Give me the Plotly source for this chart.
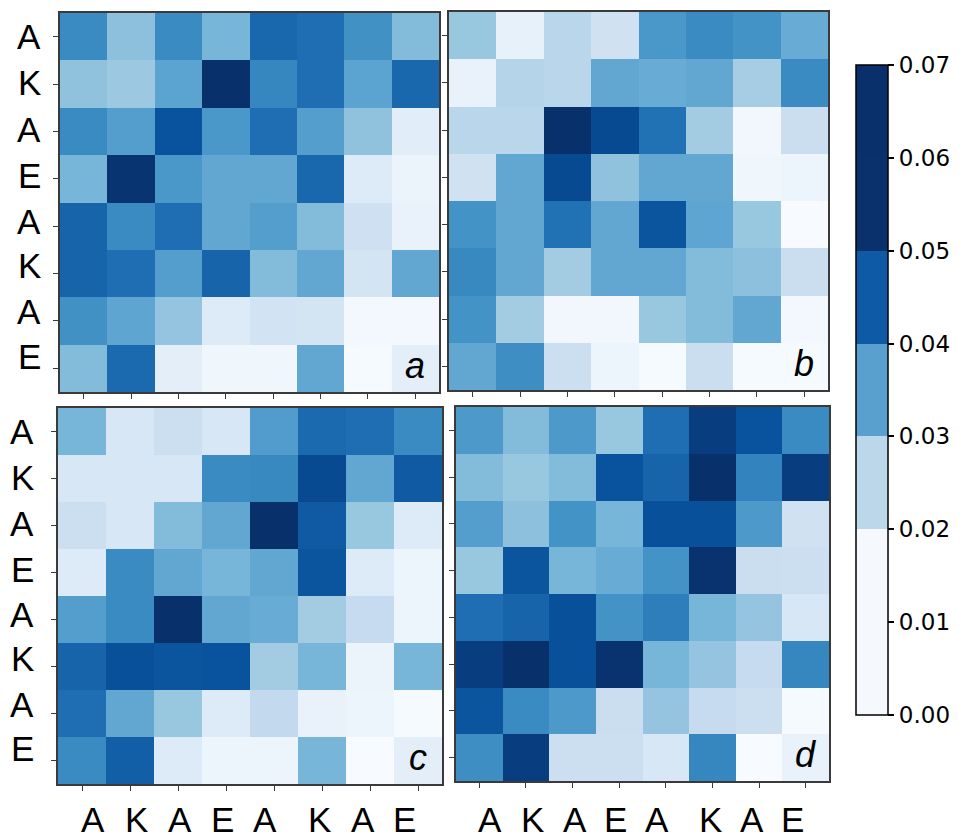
import plotly.graph_objects as go

# Residue sequence along both axes of each contact map
residues = ["A", "K", "A", "E", "A", "K", "A", "E"]

# 8x8 maps, rows top to bottom, columns left to right
panel_a = [
    [0.0455, 0.0294, 0.0455, 0.0329, 0.0553, 0.0532, 0.0441, 0.0308],
    [0.0287, 0.0266, 0.0385, 0.0700, 0.0469, 0.0532, 0.0385, 0.0553],
    [0.0455, 0.0399, 0.0609, 0.0420, 0.0532, 0.0399, 0.0287, 0.0077],
    [0.0329, 0.0690, 0.0420, 0.0371, 0.0371, 0.0553, 0.0091, 0.0042],
    [0.0560, 0.0455, 0.0532, 0.0371, 0.0399, 0.0308, 0.0147, 0.0049],
    [0.0560, 0.0532, 0.0399, 0.0560, 0.0308, 0.0371, 0.0126, 0.0371],
    [0.0441, 0.0378, 0.0280, 0.0091, 0.0133, 0.0126, 0.0014, 0.0014],
    [0.0308, 0.0546, 0.0070, 0.0028, 0.0028, 0.0371, 0.0007, 0.0070],
]
panel_b = [
    [0.0273, 0.0056, 0.0203, 0.0140, 0.0420, 0.0455, 0.0434, 0.0357],
    [0.0049, 0.0210, 0.0203, 0.0371, 0.0357, 0.0371, 0.0245, 0.0455],
    [0.0203, 0.0203, 0.0700, 0.0630, 0.0525, 0.0252, 0.0021, 0.0161],
    [0.0140, 0.0371, 0.0630, 0.0287, 0.0371, 0.0371, 0.0028, 0.0035],
    [0.0434, 0.0371, 0.0525, 0.0371, 0.0602, 0.0378, 0.0273, 0.0000],
    [0.0462, 0.0371, 0.0252, 0.0371, 0.0371, 0.0308, 0.0294, 0.0161],
    [0.0434, 0.0252, 0.0021, 0.0021, 0.0273, 0.0308, 0.0371, 0.0014],
    [0.0371, 0.0448, 0.0154, 0.0035, 0.0007, 0.0161, 0.0007, 0.0007],
]
panel_c = [
    [0.0329, 0.0112, 0.0154, 0.0112, 0.0406, 0.0546, 0.0532, 0.0455],
    [0.0112, 0.0112, 0.0112, 0.0455, 0.0462, 0.0630, 0.0371, 0.0588],
    [0.0154, 0.0112, 0.0308, 0.0371, 0.0700, 0.0588, 0.0273, 0.0091],
    [0.0091, 0.0455, 0.0371, 0.0329, 0.0371, 0.0602, 0.0091, 0.0035],
    [0.0399, 0.0455, 0.0700, 0.0371, 0.0357, 0.0252, 0.0175, 0.0035],
    [0.0560, 0.0616, 0.0602, 0.0609, 0.0252, 0.0329, 0.0042, 0.0329],
    [0.0532, 0.0371, 0.0273, 0.0091, 0.0182, 0.0049, 0.0035, 0.0007],
    [0.0455, 0.0574, 0.0091, 0.0035, 0.0035, 0.0329, 0.0000, 0.0070],
]
panel_d = [
    [0.0413, 0.0308, 0.0413, 0.0273, 0.0532, 0.0665, 0.0609, 0.0455],
    [0.0308, 0.0273, 0.0308, 0.0609, 0.0560, 0.0700, 0.0476, 0.0665],
    [0.0399, 0.0294, 0.0434, 0.0329, 0.0616, 0.0616, 0.0413, 0.0140],
    [0.0273, 0.0602, 0.0329, 0.0357, 0.0434, 0.0693, 0.0161, 0.0154],
    [0.0532, 0.0560, 0.0616, 0.0434, 0.0490, 0.0329, 0.0280, 0.0112],
    [0.0665, 0.0700, 0.0616, 0.0693, 0.0329, 0.0280, 0.0175, 0.0469],
    [0.0602, 0.0455, 0.0413, 0.0161, 0.0280, 0.0175, 0.0154, 0.0007],
    [0.0448, 0.0665, 0.0154, 0.0154, 0.0112, 0.0469, 0.0000, 0.0049],
]
panel_names = ["a", "b", "c", "d"]

# Banded colour key
band_edges = [0.00, 0.02, 0.03, 0.04, 0.05, 0.06, 0.07]
band_colors = ["#f5f9fe", "#bcd7ea", "#5aa0cf", "#0e5aa6", "#0a316c", "#09306a"]
cbar_ticks = [0.00, 0.01, 0.02, 0.03, 0.04, 0.05, 0.06, 0.07]

ZMIN, ZMAX = 0.0, 0.07
W, H = 964, 838

BLUES = [
    [0.000, "rgb(247,251,255)"],
    [0.125, "rgb(222,235,247)"],
    [0.250, "rgb(198,219,239)"],
    [0.375, "rgb(158,202,225)"],
    [0.500, "rgb(107,174,214)"],
    [0.625, "rgb(66,146,198)"],
    [0.750, "rgb(33,113,181)"],
    [0.875, "rgb(8,81,156)"],
    [1.000, "rgb(8,48,107)"],
]

stepped = []
for lo, hi, col in zip(band_edges[:-1], band_edges[1:], band_colors):
    stepped.append([(lo - ZMIN) / (ZMAX - ZMIN), col])
    stepped.append([(hi - ZMIN) / (ZMAX - ZMIN), col])

# Panel frames in pixels: (x0, x1), (y0 top, y1 bottom)
frames = [
    ((60, 439), (13, 392)),
    ((449, 828), (12, 390)),
    ((58, 442), (408, 784)),
    ((456, 829), (407, 781)),
]

# Label placement along each axis (in cell units)
y_label_pos = [0.0, 0.97, 1.96, 2.93, 3.90, 4.83, 5.80, 6.75]
x_label_pos = [0.23, 1.13, 2.05, 2.93, 3.82, 4.95, 5.85, 6.72]

LETTER_FONT = dict(family="Liberation Sans, Arial, sans-serif", size=35, color="black")
FRAME_COL = "#3a3a3a"

fig = go.Figure()
panels = [panel_a, panel_b, panel_c, panel_d]
annotations = []
for k, (z, name, ((x0, x1), (yt, yb))) in enumerate(zip(panels, panel_names, frames), start=1):
    sfx = "" if k == 1 else str(k)
    fig.add_trace(go.Heatmap(
        z=z, x=list(range(8)), y=list(range(8)),
        colorscale=BLUES, zmin=ZMIN, zmax=ZMAX, showscale=False,
        xaxis="x" + sfx, yaxis="y" + sfx, hoverinfo="z",
    ))
    common = dict(
        tickvals=list(range(8)), showticklabels=False, ticks="outside",
        ticklen=5, tickwidth=1.2, tickcolor=FRAME_COL, showline=True,
        mirror=True, linecolor=FRAME_COL, linewidth=1.5, showgrid=False,
        zeroline=False, fixedrange=True,
    )
    fig.layout["xaxis" + sfx] = dict(
        domain=[x0 / W, x1 / W], range=[-0.5, 7.5], anchor="y" + sfx, **common)
    fig.layout["yaxis" + sfx] = dict(
        domain=[1 - yb / H, 1 - yt / H], range=[7.5, -0.5], anchor="x" + sfx, **common)

    # panel tag in the lower-right cell
    annotations.append(dict(
        text=name, xref=f"x{sfx} domain", yref=f"y{sfx} domain", x=1, y=0,
        xanchor="center", yanchor="bottom", xshift=-24, yshift=4, showarrow=False,
        font=dict(family="Liberation Sans, Arial, sans-serif", size=36,
                  color="black", style="italic"),
    ))

# Residue letters: rows of the left panels, columns of the bottom panels
for sfx, xpix in (("", 29), ("3", 22)):
    for lab, pos in zip(residues, y_label_pos):
        annotations.append(dict(
            text=lab, xref="paper", yref="y" + sfx, x=xpix / W, y=pos,
            xanchor="center", yanchor="middle", showarrow=False, font=LETTER_FONT))
for sfx in ("3", "4"):
    for lab, pos in zip(residues, x_label_pos):
        annotations.append(dict(
            text=lab, xref="x" + sfx, yref="paper", x=pos, y=1 - 819 / H,
            xanchor="center", yanchor="middle", showarrow=False, font=LETTER_FONT))

# Colour key carried by an off-range marker on a hidden axis pair
fig.add_trace(go.Scatter(
    x=[5], y=[5], mode="markers", xaxis="x5", yaxis="y5",
    marker=dict(
        color=[ZMIN], cmin=ZMIN, cmax=ZMAX, colorscale=stepped, opacity=0,
        showscale=True,
        colorbar=dict(
            x=856 / W, xanchor="left", y=1 - 65 / H, yanchor="top",
            len=650 / H, lenmode="fraction", thickness=32, thicknessmode="pixels",
            xpad=0, ypad=0, outlinecolor="black", outlinewidth=1.5,
            tickvals=cbar_ticks, ticktext=[f"{v:.2f}" for v in cbar_ticks],
            ticks="outside", ticklen=6, tickwidth=1.5, tickcolor="black",
            tickfont=dict(family="DejaVu Sans", size=23, color="black"),
        ),
    ),
    showlegend=False, hoverinfo="skip",
))
fig.layout["xaxis5"] = dict(domain=[0, 0.01], range=[0, 1], visible=False, anchor="y5")
fig.layout["yaxis5"] = dict(domain=[0, 0.01], range=[0, 1], visible=False, anchor="x5")

fig.update_layout(
    width=W, height=H, margin=dict(l=0, r=0, t=0, b=0),
    paper_bgcolor="white", plot_bgcolor="white",
    annotations=annotations, showlegend=False,
)

fig.write_html("out.html")
